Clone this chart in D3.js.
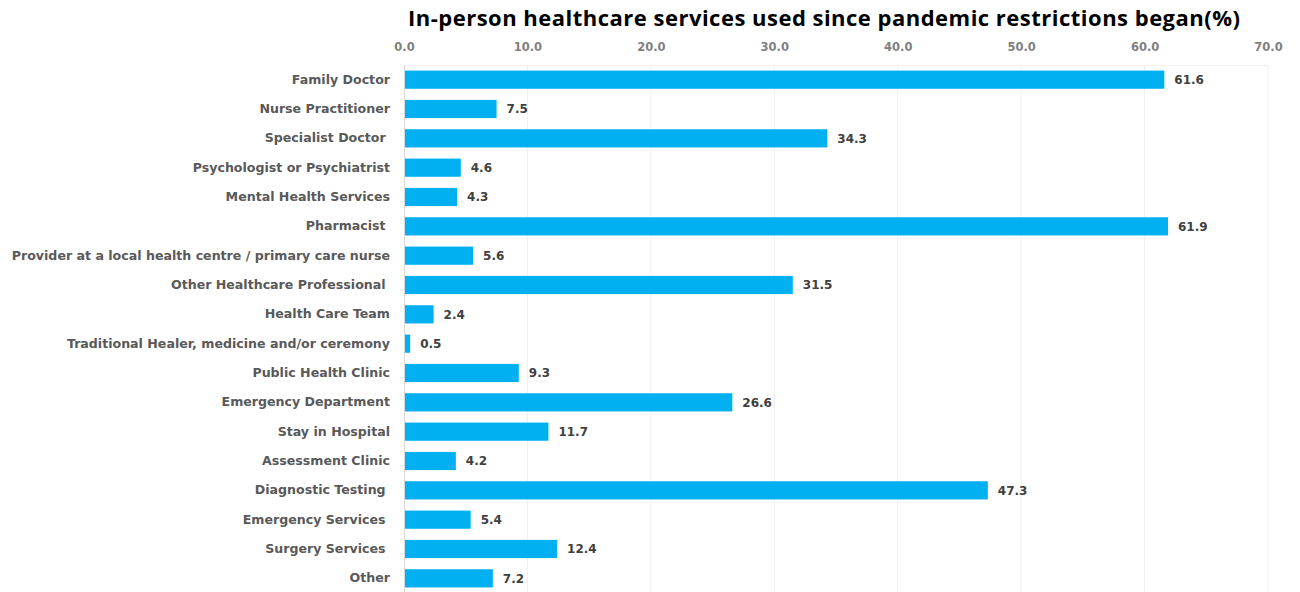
<!DOCTYPE html>
<html>
<head>
<meta charset="utf-8">
<script src="https://cdn.jsdelivr.net/npm/d3@7"></script>
<style>
  html, body { margin: 0; padding: 0; background: #ffffff; }
  svg { display: block; }
  text { white-space: pre; }
</style>
</head>
<body>
<svg id="chart" width="1300" height="592"></svg>
<script>
// Service categories, top to bottom
const categories = [
  "Family Doctor",
  "Nurse Practitioner",
  "Specialist Doctor ",
  "Psychologist or Psychiatrist",
  "Mental Health Services",
  "Pharmacist ",
  "Provider at a local health centre / primary care nurse",
  "Other Healthcare Professional ",
  "Health Care Team",
  "Traditional Healer, medicine and/or ceremony",
  "Public Health Clinic",
  "Emergency Department",
  "Stay in Hospital",
  "Assessment Clinic",
  "Diagnostic Testing ",
  "Emergency Services ",
  "Surgery Services ",
  "Other"
];

// Share of respondents (%)
const values = [61.6, 7.5, 34.3, 4.6, 4.3, 61.9, 5.6, 31.5, 2.4, 0.5, 9.3, 26.6, 11.7, 4.2, 47.3, 5.4, 12.4, 7.2];

const tickValues = [0, 10, 20, 30, 40, 50, 60, 70];
const titleText = "In-person healthcare services used since pandemic restrictions began(%)";

const svg = d3.select("#chart");

const x = d3.scaleLinear().domain([0, 70]).range([404, 1268]);
const y = d3.scaleBand().domain(categories).range([65, 593]).paddingInner(0.38).paddingOuter(0.19);

// Title
svg.append("text")
  .attr("x", 824)
  .attr("y", 26)
  .attr("text-anchor", "middle")
  .attr("font-family", "'Open Sans', 'Liberation Sans', sans-serif")
  .attr("font-weight", "bold")
  .attr("font-size", 22)
  .attr("textLength", 832)
  .attr("lengthAdjust", "spacing")
  .attr("fill", "#000000")
  .text(titleText);

// Vertical gridlines
svg.append("g")
  .selectAll("line")
  .data(tickValues.slice(1))
  .join("line")
  .attr("x1", d => x(d)).attr("x2", d => x(d))
  .attr("y1", 65).attr("y2", 592)
  .attr("stroke", "#efefef")
  .attr("stroke-width", 1);

// Top axis with tick labels
const xAxis = d3.axisTop(x)
  .tickValues(tickValues)
  .tickFormat(d3.format(".1f"))
  .tickSize(0)
  .tickPadding(0);

const gx = svg.append("g")
  .attr("transform", "translate(0,51)")
  .call(xAxis);
gx.select(".domain").remove();
gx.selectAll("text")
  .attr("font-family", "'DejaVu Sans', Verdana, sans-serif")
  .attr("font-size", 11.5)
  .attr("font-weight", "bold")
  .attr("fill", "#7f7f7f");

// Top frame line of the plot area
svg.append("line")
  .attr("x1", x(0)).attr("x2", x(70))
  .attr("y1", 65.5).attr("y2", 65.5)
  .attr("stroke", "#f2f2f2");

// Bars
svg.append("g")
  .selectAll("rect")
  .data(values)
  .join("rect")
  .attr("x", x(0))
  .attr("y", (d, i) => y(categories[i]))
  .attr("width", d => x(d) - x(0))
  .attr("height", y.bandwidth())
  .attr("fill", "#00b0f0");

// Category axis on the left
const yAxis = d3.axisLeft(y).tickSize(0).tickPadding(14);
const gy = svg.append("g")
  .attr("transform", `translate(${x(0)},0)`)
  .call(yAxis);
gy.select(".domain").attr("stroke", "#d9d9d9");
gy.selectAll("text")
  .attr("font-family", "'DejaVu Sans', Verdana, sans-serif")
  .attr("font-size", 12.6)
  .attr("font-weight", "bold")
  .attr("fill", "#595959");

// Value labels
svg.append("g")
  .selectAll("text")
  .data(values)
  .join("text")
  .attr("x", d => x(d) + 10)
  .attr("y", (d, i) => y(categories[i]) + y.bandwidth() / 2)
  .attr("dy", "0.36em")
  .attr("font-family", "'DejaVu Sans', Verdana, sans-serif")
  .attr("font-size", 12)
  .attr("font-weight", "bold")
  .attr("fill", "#404040")
  .text(d => d.toFixed(1));
</script>
</body>
</html>
